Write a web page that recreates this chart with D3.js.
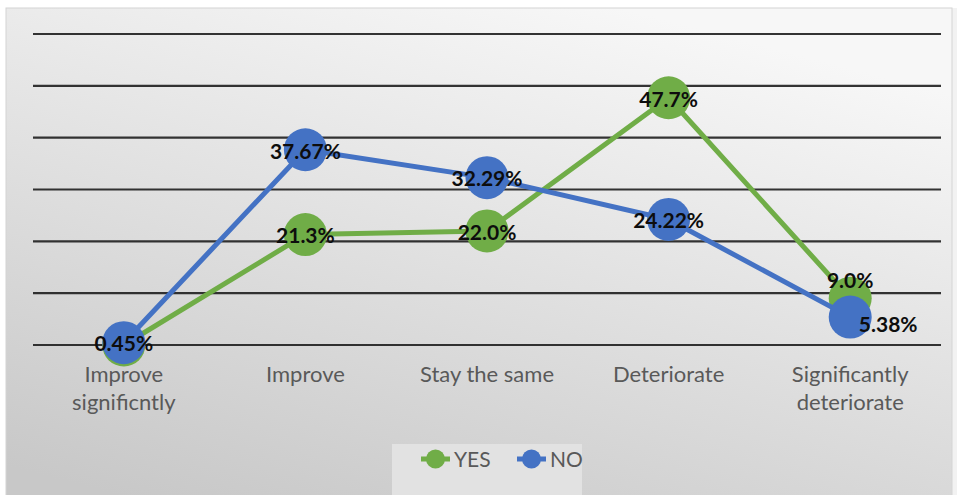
<!DOCTYPE html>
<html>
<head>
<meta charset="utf-8">
<script src="https://cdn.jsdelivr.net/npm/d3@7"></script>
<style>
  html, body { margin: 0; padding: 0; background: #ffffff; }
  svg { display: block; }
</style>
</head>
<body>
<svg id="chart" width="957" height="495"></svg>
<script>
// Survey outcome shares by group (percent)
const categories = [
  ["Improve", "significntly"],
  ["Improve"],
  ["Stay the same"],
  ["Deteriorate"],
  ["Significantly", "deteriorate"]
];
const yesValues = [0.0, 21.3, 22.0, 47.7, 9.0];
const noValues = [0.45, 37.67, 32.29, 24.22, 5.38];
const seriesNames = ["YES", "NO"];
const yTicks = [0, 10, 20, 30, 40, 50, 60];

// label visibility and nudges (display settings)
const yesLabelShown = [false, true, true, true, true];
const noLabelShown = [true, true, true, true, true];
const yesLabelNudge = [[0, 0], [0, 0], [0, 0], [0, 0], [0, -19]];
const noLabelNudge = [[0, 0], [0, 0], [0, 0], [0, 0], [38, 6]];

const frame = { x: 6, y: 8, w: 946, h: 495 };
const plot = { left: 33, right: 941, top: 34, bottom: 345 };
const colors = { YES: "#70ad47", NO: "#4472c4" };
const font = "Lato, 'Open Sans', sans-serif";

const svg = d3.select("#chart");
const defs = svg.append("defs");
const grad = defs.append("linearGradient")
  .attr("id", "bg").attr("x1", "0.65").attr("y1", "0").attr("x2", "0.15").attr("y2", "1");
grad.append("stop").attr("offset", "0").attr("stop-color", "#f7f7f7");
grad.append("stop").attr("offset", "1").attr("stop-color", "#c8c8c8");

// chart frame
svg.append("rect").attr("x", frame.x + frame.w).attr("y", frame.y).attr("width", 5).attr("height", frame.h)
  .attr("fill", "#f2f2f2");
svg.append("rect")
  .attr("x", frame.x).attr("y", frame.y).attr("width", frame.w).attr("height", frame.h)
  .attr("fill", "url(#bg)").attr("stroke", "#d4d4d4").attr("stroke-width", 1);

const keys = categories.map(c => c.join(" "));
const x = d3.scaleBand().domain(keys).range([plot.left, plot.right]);
const y = d3.scaleLinear().domain([0, 60]).range([plot.bottom, plot.top]);
const cx = i => x(keys[i]) + x.bandwidth() / 2;

// horizontal gridlines
svg.append("g").selectAll("line").data(yTicks).join("line")
  .attr("x1", plot.left).attr("x2", plot.right)
  .attr("y1", d => y(d)).attr("y2", d => y(d))
  .attr("stroke", "#1e1e1e").attr("stroke-width", 2.2).attr("stroke-opacity", 0.9);

// category axis labels
const xAxis = d3.axisBottom(x).tickSize(0).tickFormat("");
const axisG = svg.append("g").attr("transform", `translate(0,${plot.bottom})`).call(xAxis);
axisG.select(".domain").remove();
axisG.selectAll(".tick").each(function(d, i) {
  const t = d3.select(this).append("text")
    .attr("fill", "#595959")
    .attr("font-family", font)
    .attr("font-size", 22)
    .attr("text-anchor", "middle");
  categories[i].forEach((line, j) => {
    t.append("tspan").attr("x", 0).attr("y", 37 + j * 28).text(line);
  });
});

const series = [
  { name: seriesNames[0], values: yesValues, shown: yesLabelShown, nudge: yesLabelNudge, fmt: d3.format(".1f") },
  { name: seriesNames[1], values: noValues, shown: noLabelShown, nudge: noLabelNudge, fmt: d3.format(".2f") }
];

const line = d3.line()
  .x((d, i) => cx(i))
  .y(d => y(d));

// series: line then markers, drawn in order
series.forEach(s => {
  const g = svg.append("g");
  g.append("path").datum(s.values)
    .attr("d", line).attr("fill", "none")
    .attr("stroke", colors[s.name]).attr("stroke-width", 5)
    .attr("stroke-linejoin", "round").attr("stroke-linecap", "round");
  g.selectAll("circle").data(s.values).join("circle")
    .attr("cx", (d, i) => cx(i))
    .attr("cy", d => y(d))
    .attr("r", 21.5)
    .attr("fill", colors[s.name]);
});

// data labels on top
series.forEach(s => {
  const pts = s.values.map((v, i) => ({ v, i })).filter(p => s.shown[p.i]);
  svg.append("g").selectAll("text").data(pts).join("text")
    .attr("x", p => cx(p.i) + s.nudge[p.i][0])
    .attr("y", p => y(p.v) + s.nudge[p.i][1])
    .attr("dy", "0.42em")
    .attr("text-anchor", "middle")
    .attr("font-family", font)
    .attr("font-weight", "bold")
    .attr("font-size", 21)
    .attr("fill", "#0d0d0d")
    .text(p => s.fmt(p.v) + "%");
});

// legend
const legend = { x: 392, y: 444, w: 190, h: 60 };
svg.append("rect").attr("x", legend.x).attr("y", legend.y)
  .attr("width", legend.w).attr("height", legend.h).attr("fill", "#e2e2e2");
const legendItems = svg.append("g").selectAll("g").data(seriesNames).join("g")
  .attr("transform", (d, i) => `translate(${legend.x + 29 + i * 96},${legend.y + 15})`);
legendItems.append("line").attr("x1", 0).attr("x2", 29).attr("y1", 0).attr("y2", 0)
  .attr("stroke", d => colors[d]).attr("stroke-width", 5);
legendItems.append("circle").attr("cx", 14.5).attr("cy", 0).attr("r", 9.5)
  .attr("fill", d => colors[d]);
legendItems.append("text").attr("x", 33).attr("y", 0).attr("dy", "0.36em")
  .attr("font-family", font).attr("font-size", 21)
  .attr("fill", "#595959").text(d => d);
</script>
</body>
</html>
